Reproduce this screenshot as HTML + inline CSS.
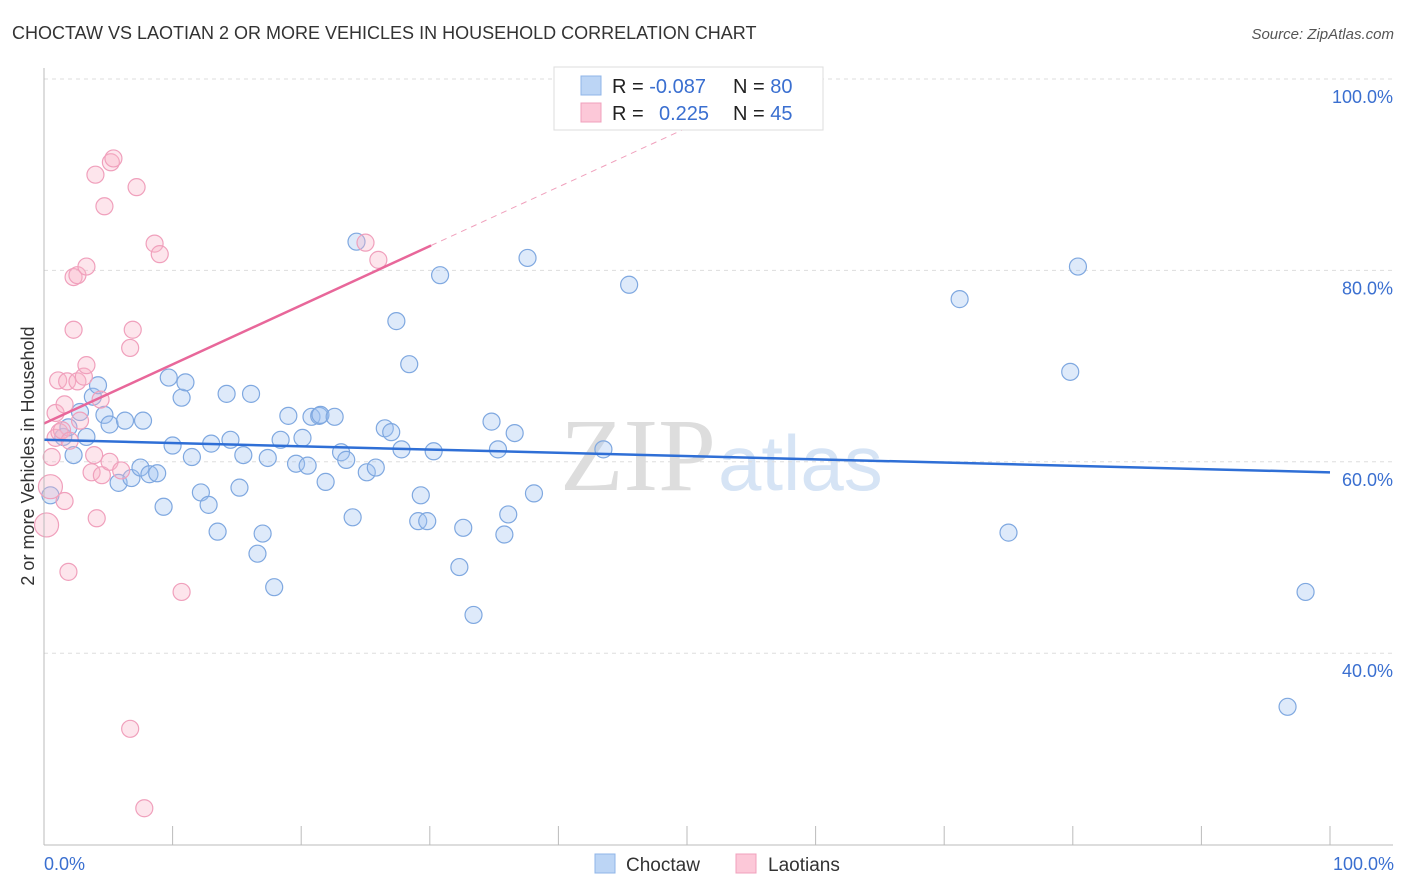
<!DOCTYPE html>
<html><head><meta charset="utf-8"><style>
body{margin:0;background:#fff;font-family:"Liberation Sans",sans-serif;}
svg{display:block}
</style></head><body>
<svg id="c" width="1406" height="892">
<text x="12" y="39" font-size="18" fill="#333">CHOCTAW VS LAOTIAN 2 OR MORE VEHICLES IN HOUSEHOLD CORRELATION CHART</text>
<text x="1394" y="39" font-size="15" fill="#555" font-style="italic" text-anchor="end">Source: ZipAtlas.com</text>
<text transform="translate(34,456) rotate(-90)" font-size="18" fill="#333" text-anchor="middle">2 or more Vehicles in Household</text>
<text x="716" y="490" font-size="104" fill="#ddd" text-anchor="end" font-family="Liberation Serif,serif">ZIP</text>
<text x="718" y="490" font-size="78" fill="#d6e4f5">atlas</text>
<g id="grid"></g><g id="pts"></g><g id="trend"></g>
<line x1="44" y1="845" x2="1393" y2="845" stroke="#bbb"/>
<line x1="44" y1="68" x2="44" y2="845" stroke="#bbb"/>
<g id="ticks"></g>
<text x="44" y="870" font-size="18" fill="#3a6fd0">0.0%</text>
<text x="1394" y="870" font-size="18" fill="#3a6fd0" text-anchor="end">100.0%</text>
<g>
<rect x="554" y="67" width="269" height="63" fill="#fff" stroke="#ddd"/>
<rect x="581" y="76" width="20" height="19" fill="#bcd5f5" stroke="#8fb5e8"/>
<rect x="581" y="103" width="20" height="19" fill="#fcc8d8" stroke="#f0a0bc"/>
<text x="612" y="93" font-size="20" fill="#222">R = <tspan fill="#3a6fd0">-0.087</tspan></text>
<text x="733" y="93" font-size="20" fill="#222">N = <tspan fill="#3a6fd0">80</tspan></text>
<text x="612" y="120" font-size="20" fill="#222">R = </text><text x="659" y="120" font-size="20" fill="#3a6fd0">0.225</text>
<text x="733" y="120" font-size="20" fill="#222">N = <tspan fill="#3a6fd0">45</tspan></text>
</g>
<g>
<rect x="595" y="854" width="20" height="19" fill="#bcd5f5" stroke="#8fb5e8"/>
<text x="626" y="871" font-size="19" fill="#333">Choctaw</text>
<rect x="736" y="854" width="20" height="19" fill="#fcc8d8" stroke="#f0a0bc"/>
<text x="768" y="871" font-size="19" fill="#333">Laotians</text>
</g>
</svg>
<script>
const yTicks=[100,80,60,40];
const yTickLabels=["100.0%","80.0%","60.0%","40.0%"];
const xTicks=[0,10,20,30,40,50,60,70,80,90,100];
const blueX=[0.5,1.5,1.9,2.3,2.8,3.3,3.8,4.2,4.7,5.1,5.8,6.3,6.8,7.5,7.7,8.2,8.8,9.3,9.7,10.0,10.7,11.0,11.5,12.2,12.8,13.0,13.5,14.2,14.5,15.2,15.5,16.1,16.6,17.0,17.4,17.9,18.4,19.0,19.6,20.1,20.5,20.8,21.4,21.5,21.9,22.6,23.1,23.5,24.0,24.3,25.1,25.8,26.5,27.0,27.4,27.8,28.4,29.1,29.3,29.8,30.3,30.8,32.3,32.6,33.4,34.8,35.3,35.8,36.1,36.6,37.6,38.1,43.5,45.5,71.2,75.0,79.8,80.4,96.7,98.1];
const blueY=[56.5,62.6,63.6,60.7,65.2,62.6,66.8,68.0,64.9,63.9,57.8,64.3,58.3,59.4,64.3,58.7,58.8,55.3,68.8,61.7,66.7,68.3,60.5,56.8,55.5,61.9,52.7,67.1,62.3,57.3,60.7,67.1,50.4,52.5,60.4,46.9,62.3,64.8,59.8,62.5,59.6,64.7,64.8,64.9,57.9,64.7,61.0,60.2,54.2,83.0,58.9,59.4,63.5,63.1,74.7,61.3,70.2,53.8,56.5,53.8,61.1,79.5,49.0,53.1,44.0,64.2,61.3,52.4,54.5,63.0,81.3,56.7,61.3,78.5,77.0,52.6,69.4,80.4,34.4,46.4];
const pinkX=[0.2,0.5,0.6,0.9,0.9,1.1,1.2,1.4,1.6,1.6,1.8,1.9,2.0,2.3,2.3,2.6,2.6,2.8,3.1,3.3,3.3,3.7,3.9,4.0,4.1,4.4,4.5,4.7,5.1,5.2,5.4,6.0,6.7,6.9,6.7,7.2,7.8,8.6,9.0,10.7,25.0,26.0];
const pinkY=[53.4,57.4,60.5,62.5,65.1,68.5,63.1,63.3,55.9,66.0,68.4,48.5,62.2,73.8,79.3,79.5,68.4,64.3,68.9,80.4,70.1,58.9,60.7,90.0,54.1,66.5,58.6,86.7,60.0,91.3,91.7,59.1,71.9,73.8,32.1,88.7,23.8,82.8,81.7,46.4,82.9,81.1];
const pinkSize=[12,12];
const blueTrend=[62.3,58.9];
const pinkTrend=[64.0,0.618];
const pinkSolidEnd=30.1;
const X=v=>44+v*12.86, Y=v=>79+(100-v)*9.57;
const NS="http://www.w3.org/2000/svg";
function mk(p,t,a){const e=document.createElementNS(NS,t);for(const k in a)e.setAttribute(k,a[k]);document.getElementById(p).appendChild(e);return e;}
yTicks.forEach((t,i)=>{
 const l=mk('grid','line',{x1:44,x2:1393,y1:Y(t),y2:Y(t),stroke:'#ddd','stroke-dasharray':'4,4'});
 
 
 const tx=mk('grid','text',{x:1393,y:Y(t)+24,'font-size':18,fill:'#3a6fd0','text-anchor':'end'});
 tx.textContent=yTickLabels[i];
 
 
});
xTicks.forEach(t=>{
 const l=mk('ticks','line',{x1:X(t),x2:X(t),y1:826,y2:845,stroke:'#bbb'});
 
 
});
blueX.forEach((v,i)=>{
 const c=mk('pts','circle',{cx:X(v),cy:Y(blueY[i]),r:8.5,fill:'rgba(160,196,240,0.35)',stroke:'#7fa8e0','stroke-width':1.2});
 
 
});
pinkX.forEach((v,i)=>{
 const c=mk('pts','circle',{cx:X(v),cy:Y(pinkY[i]),r:pinkSize[i]||8.5,fill:'rgba(248,180,200,0.35)',stroke:'#f0a0bc','stroke-width':1.2});
 
 
});
const bl=mk('trend','line',{x1:X(0),y1:Y(blueTrend[0]),x2:X(100),y2:Y(blueTrend[1]),stroke:'#2f6fd6','stroke-width':2.5});


const pe=(100-pinkTrend[0])/pinkTrend[1];
const pl=mk('trend','line',{x1:X(0),y1:Y(pinkTrend[0]),x2:X(pinkSolidEnd),y2:Y(pinkTrend[0]+pinkTrend[1]*pinkSolidEnd),stroke:'#e8679a','stroke-width':2.5});


const pd=mk('trend','line',{x1:X(pinkSolidEnd),y1:Y(pinkTrend[0]+pinkTrend[1]*pinkSolidEnd),x2:X(pe),y2:Y(100),stroke:'#f0a0bc','stroke-width':1,'stroke-dasharray':'6,5'});


</script>
</body></html>
